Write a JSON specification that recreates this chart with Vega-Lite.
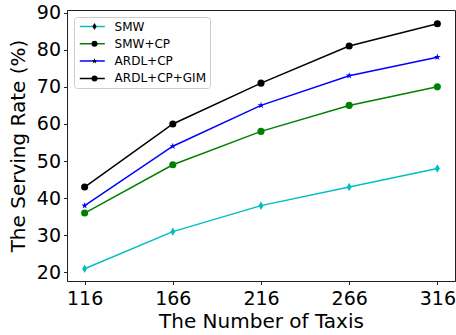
{
  "$schema": "https://vega.github.io/schema/vega-lite/v6.json",
  "autosize": {"type": "none"},
  "width": 388,
  "height": 271,
  "padding": {"left": 67, "top": 10, "right": 1, "bottom": 54},
  "background": "white",
  "config": {
    "view": {"stroke": "#222222", "strokeWidth": 1},
    "font": "DejaVu Sans",
    "axis": {
      "grid": false,
      "domainColor": "#222222",
      "tickColor": "#222222",
      "tickSize": 3.5,
      "labelFont": "DejaVu Sans",
      "labelFontSize": 19,
      "labelColor": "black",
      "titleFont": "DejaVu Sans",
      "titleFontSize": 20,
      "titleFontWeight": "normal",
      "titleColor": "black"
    }
  },
  "data": {
    "values": [
      {"n": 116, "series": "SMW", "rate": 21},
      {"n": 166, "series": "SMW", "rate": 31},
      {"n": 216, "series": "SMW", "rate": 38},
      {"n": 266, "series": "SMW", "rate": 43},
      {"n": 316, "series": "SMW", "rate": 48},
      {"n": 116, "series": "SMW+CP", "rate": 36},
      {"n": 166, "series": "SMW+CP", "rate": 49},
      {"n": 216, "series": "SMW+CP", "rate": 58},
      {"n": 266, "series": "SMW+CP", "rate": 65},
      {"n": 316, "series": "SMW+CP", "rate": 70},
      {"n": 116, "series": "ARDL+CP", "rate": 38},
      {"n": 166, "series": "ARDL+CP", "rate": 54},
      {"n": 216, "series": "ARDL+CP", "rate": 65},
      {"n": 266, "series": "ARDL+CP", "rate": 73},
      {"n": 316, "series": "ARDL+CP", "rate": 78},
      {"n": 116, "series": "ARDL+CP+GIM", "rate": 43},
      {"n": 166, "series": "ARDL+CP+GIM", "rate": 60},
      {"n": 216, "series": "ARDL+CP+GIM", "rate": 71},
      {"n": 266, "series": "ARDL+CP+GIM", "rate": 81},
      {"n": 316, "series": "ARDL+CP+GIM", "rate": 87}
    ]
  },
  "encoding": {
    "x": {
      "field": "n", "type": "quantitative",
      "scale": {"domain": [106, 326], "nice": false, "zero": false},
      "axis": {"values": [116, 166, 216, 266, 316], "format": "d", "title": "The Number of Taxis", "labelPadding": 5, "titlePadding": 3}
    },
    "y": {
      "field": "rate", "type": "quantitative",
      "scale": {"domain": [17.7, 90.7], "nice": false, "zero": false},
      "axis": {"values": [20, 30, 40, 50, 60, 70, 80, 90], "title": "The Serving Rate (%)", "labelPadding": 3, "titlePadding": 8}
    }
  },
  "layer": [
    {
      "mark": {"type": "line", "strokeWidth": 1.5},
      "encoding": {
        "color": {
          "field": "series", "type": "nominal",
          "scale": {"domain": ["SMW", "SMW+CP", "ARDL+CP", "ARDL+CP+GIM"], "range": ["#00BFBF", "#008000", "#0000FF", "#000000"]},
          "legend": {
            "orient": "none", "legendX": 7, "legendY": 7,
            "title": null,
            "symbolType": "M-2.083,0H2.083",
            "symbolSize": 144,
            "symbolStrokeWidth": 1.5,
            "clipHeight": 12,
            "labelFont": "DejaVu Sans", "labelFontSize": 12, "labelColor": "black",
            "padding": 3.5, "rowPadding": 5.3,
            "symbolOffset": 7.8, "labelOffset": 15.3,
            "fillColor": "white", "strokeColor": "#cccccc", "cornerRadius": 3
          }
        }
      }
    },
    {
      "mark": {"type": "point", "filled": true, "size": 50, "opacity": 1},
      "encoding": {
        "color": {"field": "series", "type": "nominal", "legend": null},
        "shape": {
          "field": "series", "type": "nominal",
          "scale": {
            "domain": ["SMW", "SMW+CP", "ARDL+CP", "ARDL+CP+GIM"],
            "range": ["M0,-1.2L0.7,0L0,1.2L-0.7,0Z", "circle", "M0,-1L0.225,-0.309L0.951,-0.309L0.363,0.118L0.588,0.809L0,0.382L-0.588,0.809L-0.363,0.118L-0.951,-0.309L-0.225,-0.309Z", "circle"]
          },
          "legend": {
            "orient": "top-left", "offset": 7,
            "title": null,
            "symbolSize": 36,
            "clipHeight": 12,
            "labelExpr": "''",
            "labelFontSize": 12,
            "padding": 3.5, "rowPadding": 5.3,
            "symbolOffset": 11,
            "encode": {
              "symbols": {
                "update": {
                  "fill": {"signal": "datum.value === 'SMW' ? '#00BFBF' : datum.value === 'SMW+CP' ? '#008000' : datum.value === 'ARDL+CP' ? '#0000FF' : '#000000'"},
                  "stroke": {"signal": "datum.value === 'SMW' ? '#00BFBF' : datum.value === 'SMW+CP' ? '#008000' : datum.value === 'ARDL+CP' ? '#0000FF' : '#000000'"},
                  "opacity": {"value": 1}
                }
              }
            }
          }
        }
      }
    }
  ]
}
